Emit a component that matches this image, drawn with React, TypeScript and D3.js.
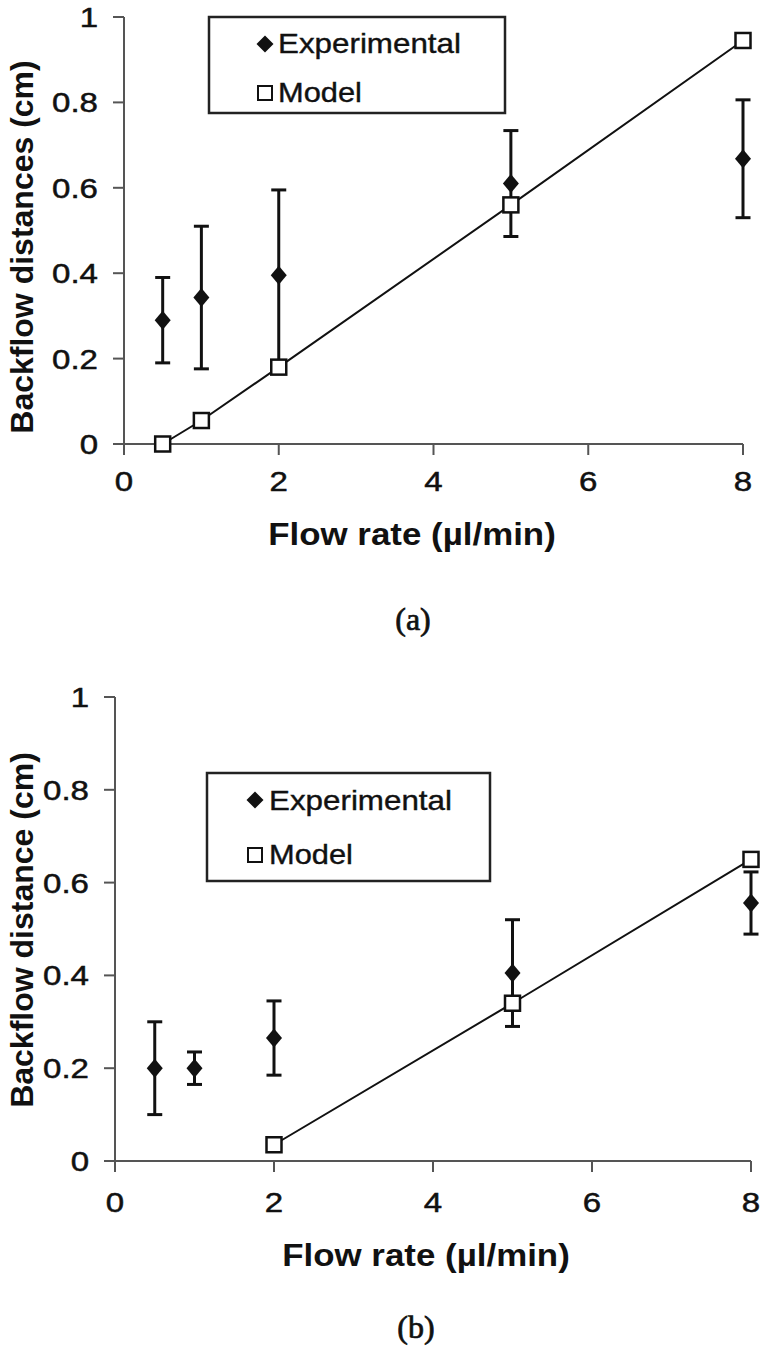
import React from "react";
import * as d3 from "d3";

// ---- Data ----
const flowRates = [0.5, 1, 2, 5, 8];

const expA = [0.29, 0.343, 0.395, 0.61, 0.668];
const errA = [0.1, 0.167, 0.2, 0.124, 0.138];
const modelXA = [0.5, 1, 2, 5, 8];
const modelA = [0, 0.055, 0.18, 0.56, 0.945];

const expB = [0.2, 0.2, 0.265, 0.405, 0.556];
const errB = [0.1, 0.035, 0.08, 0.115, 0.067];
const modelXB = [2, 5, 8];
const modelB = [0.035, 0.34, 0.65];

const xTicks = [0, 2, 4, 6, 8];
const yTicks = [0, 0.2, 0.4, 0.6, 0.8, 1];

const xLabel = "Flow rate (µl/min)";
const yLabelA = "Backflow distances (cm)";
const yLabelB = "Backflow distance (cm)";
const legendLabels = ["Experimental", "Model"];

const SANS = "'Liberation Sans', Arial, 'DejaVu Sans', sans-serif";
const SERIF = "'Liberation Serif', 'Times New Roman', serif";
const AXIS = "#555";
const INK = "#111";

type Layout = {
  px0: number; px1: number; py0: number; py1: number;
  yLabelPos: [number, number];
  xLabelPos: [number, number];
  caption: string; captionPos: [number, number];
  legendBox: [number, number, number, number];
  legendMarkerX: number; legendTextX: number;
  legendRowsY: [number, number];
  legendBaselines: [number, number];
  xTickBaseline: number;
};

function STxt({ x, y, sx = 1, anchor = "start", size, weight = "normal", family = SANS, sw = 0, children }: any) {
  return (
    <text
      transform={`translate(${x},${y}) scale(${sx},1)`}
      textAnchor={anchor}
      fontSize={size}
      fontWeight={weight}
      fontFamily={family}
      fill={INK}
      stroke={sw ? INK : "none"}
      strokeWidth={sw}
    >
      {children}
    </text>
  );
}

function diamond(w: number, h: number) {
  return `M0,${-h / 2}L${w / 2},0L0,${h / 2}L${-w / 2},0Z`;
}

function Panel({ exp, err, modelX, model, yLabel, L }: any) {
  const l: Layout = L;
  const x = d3.scaleLinear().domain([0, 8]).range([l.px0, l.px1]);
  const y = d3.scaleLinear().domain([0, 1]).range([l.py0, l.py1]);
  const tick = 11;
  const line = d3
    .line<number>()
    .x((_, i) => x(modelX[i]))
    .y((d) => y(d));

  return (
    <g>
      {/* axes */}
      <line x1={x(0) - tick} x2={x(8)} y1={y(0)} y2={y(0)} stroke={AXIS} strokeWidth={2} />
      <line x1={x(0)} x2={x(0)} y1={y(1)} y2={y(0) + tick} stroke={AXIS} strokeWidth={2} />
      {yTicks.map((t) => (
        <g key={"yt" + t}>
          <line x1={x(0) - tick} x2={x(0)} y1={y(t)} y2={y(t)} stroke={AXIS} strokeWidth={2} />
          <STxt x={x(0) - 26} y={y(t) + 10} sx={1.18} anchor="end" size={28} sw={0.5}>
            {d3.format("~g")(t)}
          </STxt>
        </g>
      ))}
      {xTicks.map((t) => (
        <g key={"xt" + t}>
          <line x1={x(t)} x2={x(t)} y1={y(0)} y2={y(0) + tick} stroke={AXIS} strokeWidth={2} />
          <STxt x={x(t)} y={l.xTickBaseline} sx={1.18} anchor="middle" size={28} sw={0.5}>
            {String(t)}
          </STxt>
        </g>
      ))}

      {/* axis titles */}
      <text
        transform={`translate(${l.yLabelPos[0]},${l.yLabelPos[1]}) rotate(-90)`}
        textAnchor="middle"
        fontSize={32}
        fontWeight="bold"
        fontFamily={SANS}
        fill={INK}
      >
        {yLabel}
      </text>
      <STxt x={l.xLabelPos[0]} y={l.xLabelPos[1]} sx={1.09} anchor="middle" size={32} weight="bold">
        {xLabel}
      </STxt>
      <STxt x={l.captionPos[0]} y={l.captionPos[1]} anchor="middle" size={32} family={SERIF} sw={0.7}>
        {l.caption}
      </STxt>

      {/* experimental error bars + diamonds */}
      {flowRates.map((f, i) => {
        const cx = x(f);
        const top = y(exp[i] + err[i]);
        const bot = y(exp[i] - err[i]);
        return (
          <g key={"e" + i}>
            <line x1={cx} x2={cx} y1={top} y2={bot} stroke={INK} strokeWidth={3} />
            <line x1={cx - 7.5} x2={cx + 7.5} y1={top} y2={top} stroke={INK} strokeWidth={3} />
            <line x1={cx - 7.5} x2={cx + 7.5} y1={bot} y2={bot} stroke={INK} strokeWidth={3} />
            <path d={diamond(16, 19)} transform={`translate(${cx},${y(exp[i])})`} fill={INK} />
          </g>
        );
      })}

      {/* model line + squares */}
      <path d={line(model) || ""} fill="none" stroke={INK} strokeWidth={2} />
      {model.map((v: number, i: number) => (
        <rect
          key={"m" + i}
          x={x(modelX[i]) - 7.5}
          y={y(v) - 7.5}
          width={15}
          height={15}
          fill="#fff"
          stroke={INK}
          strokeWidth={2.5}
        />
      ))}

      {/* legend */}
      <rect
        x={l.legendBox[0]}
        y={l.legendBox[1]}
        width={l.legendBox[2] - l.legendBox[0]}
        height={l.legendBox[3] - l.legendBox[1]}
        fill="#fff"
        stroke="#222"
        strokeWidth={2.5}
      />
      <path d={diamond(17, 17)} transform={`translate(${l.legendMarkerX},${l.legendRowsY[0]})`} fill={INK} />
      <rect
        x={l.legendMarkerX - 7}
        y={l.legendRowsY[1] - 7}
        width={14}
        height={14}
        fill="#fff"
        stroke={INK}
        strokeWidth={2}
      />
      <STxt x={l.legendTextX} y={l.legendBaselines[0]} sx={1.12} size={28} sw={0.4}>
        {legendLabels[0]}
      </STxt>
      <STxt x={l.legendTextX} y={l.legendBaselines[1]} sx={1.1} size={28} sw={0.4}>
        {legendLabels[1]}
      </STxt>
    </g>
  );
}

const layoutA: Layout = {
  px0: 124, px1: 743, py0: 444, py1: 17,
  yLabelPos: [33, 247],
  xLabelPos: [412, 545],
  caption: "(a)", captionPos: [413, 630],
  legendBox: [209, 17, 505, 113],
  legendMarkerX: 265, legendTextX: 278,
  legendRowsY: [44, 93],
  legendBaselines: [53, 102],
  xTickBaseline: 491,
};

const layoutB: Layout = {
  px0: 115, px1: 751, py0: 1161, py1: 697,
  yLabelPos: [33, 930],
  xLabelPos: [426, 1266],
  caption: "(b)", captionPos: [416, 1338],
  legendBox: [207, 773, 490, 881],
  legendMarkerX: 255, legendTextX: 269,
  legendRowsY: [800, 855],
  legendBaselines: [810, 864],
  xTickBaseline: 1212,
};

export default function App() {
  return (
    <svg
      width={764}
      height={1354}
      style={{ position: "absolute", left: 0, top: 0, background: "#fff" }}
    >
      <rect x={0} y={0} width={764} height={1354} fill="#fff" />
      <Panel exp={expA} err={errA} modelX={modelXA} model={modelA} yLabel={yLabelA} L={layoutA} />
      <Panel exp={expB} err={errB} modelX={modelXB} model={modelB} yLabel={yLabelB} L={layoutB} />
    </svg>
  );
}
